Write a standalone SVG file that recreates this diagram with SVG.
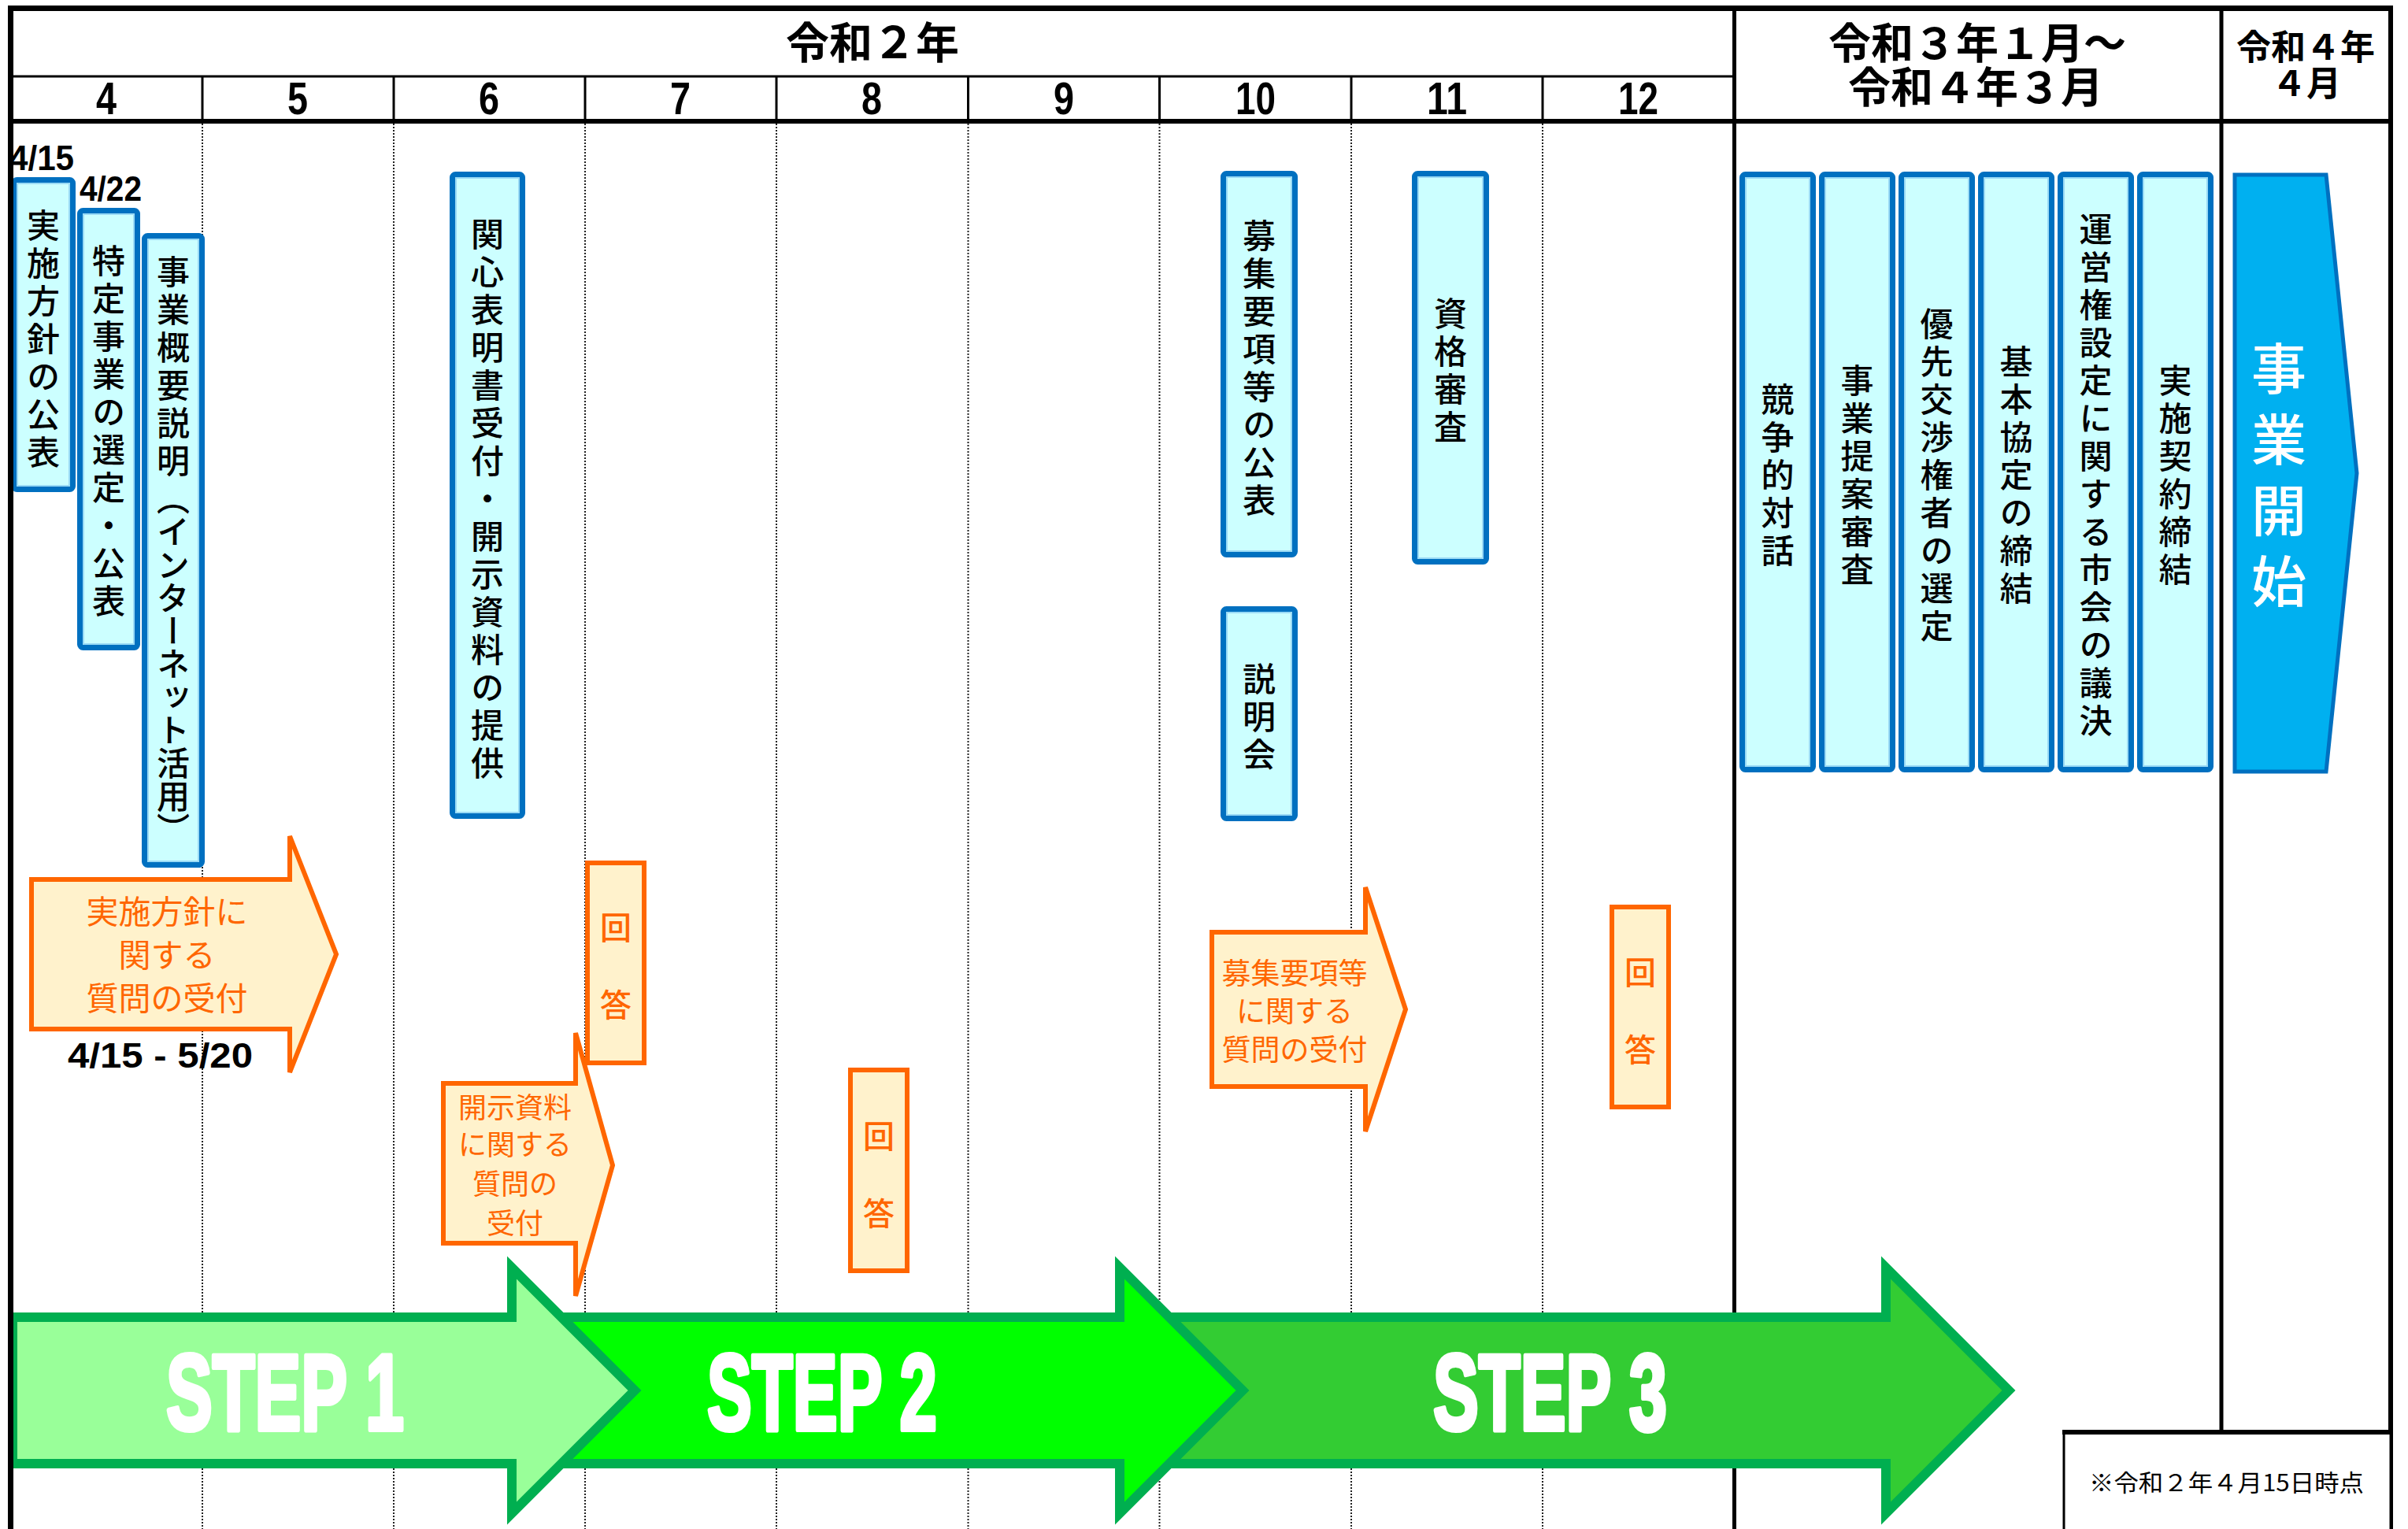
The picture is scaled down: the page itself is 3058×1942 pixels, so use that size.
<svg xmlns="http://www.w3.org/2000/svg" width="3058" height="1942" viewBox="0 0 3058 1942">
<style>
.bg{fill:#FFFFFF}
.dot{stroke:#222;stroke-width:2;stroke-dasharray:2 2;fill:none}
.frame{stroke:#000;fill:none}
.hdr{font-family:"Noto Sans CJK JP",sans-serif;font-weight:700;fill:#000;text-anchor:middle}
.mon{font-family:"Liberation Sans",Arial,sans-serif;font-weight:700;font-size:58px;fill:#000}
.date{font-family:"Liberation Sans",Arial,sans-serif;font-weight:700;font-size:45px;fill:#000}
.bx{fill:#CCFFFF;stroke:#0070C0;stroke-width:7}
.bxi{fill:none;stroke:#9ADAF5;stroke-width:2}
.vt{writing-mode:vertical-rl;font-family:"Noto Sans CJK JP",sans-serif;font-size:42px;font-weight:500;letter-spacing:6px;text-anchor:middle;fill:#000}
.ob{fill:#FFF2CC;stroke:#FF6600;stroke-width:6;stroke-linejoin:miter}
.ot{font-family:"Noto Sans CJK JP",sans-serif;fill:#FF6600;text-anchor:middle}
.ovt{writing-mode:vertical-rl;font-family:"Noto Sans CJK JP",sans-serif;font-size:40px;font-weight:500;letter-spacing:9px;text-anchor:middle;fill:#FF6600}
.step{stroke:#00AF50;stroke-width:12;stroke-linejoin:miter;stroke-miterlimit:10}
.st{font-family:"Liberation Sans",Arial,sans-serif;font-weight:700;font-size:138px;fill:#FFFFFF;stroke:#FFFFFF;stroke-width:6;stroke-linejoin:round}
</style>
<rect class="bg" x="0" y="0" width="3058" height="1942"/>

<g id="grid">
  <line class="dot" x1="257" y1="157" x2="257" y2="1942"/>
  <line class="dot" x1="500" y1="157" x2="500" y2="1942"/>
  <line class="dot" x1="743" y1="157" x2="743" y2="1942"/>
  <line class="dot" x1="986" y1="157" x2="986" y2="1942"/>
  <line class="dot" x1="1229.5" y1="157" x2="1229.5" y2="1942"/>
  <line class="dot" x1="1472.5" y1="157" x2="1472.5" y2="1942"/>
  <line class="dot" x1="1716" y1="157" x2="1716" y2="1942"/>
  <line class="dot" x1="1959" y1="157" x2="1959" y2="1942"/>
</g>

<g id="header">
  <text class="hdr" x="1108" y="74" font-size="55">令和２年</text>
  <text class="hdr" font-size="54"><tspan x="2511" y="75">令和３年１月～</tspan><tspan x="2509" y="131">令和４年３月</tspan></text>
  <text class="hdr" font-size="44"><tspan x="2928" y="76">令和４年</tspan><tspan x="2929" y="122">４月</tspan></text>
  <text class="mon" x="122" y="145" textLength="26" lengthAdjust="spacingAndGlyphs">4</text>
  <text class="mon" x="365" y="145" textLength="26" lengthAdjust="spacingAndGlyphs">5</text>
  <text class="mon" x="608" y="145" textLength="26" lengthAdjust="spacingAndGlyphs">6</text>
  <text class="mon" x="851" y="145" textLength="26" lengthAdjust="spacingAndGlyphs">7</text>
  <text class="mon" x="1094" y="145" textLength="26" lengthAdjust="spacingAndGlyphs">8</text>
  <text class="mon" x="1338" y="145" textLength="26" lengthAdjust="spacingAndGlyphs">9</text>
  <text class="mon" x="1569" y="145" textLength="51" lengthAdjust="spacingAndGlyphs">10</text>
  <text class="mon" x="1812" y="145" textLength="51" lengthAdjust="spacingAndGlyphs">11</text>
  <text class="mon" x="2055" y="145" textLength="51" lengthAdjust="spacingAndGlyphs">12</text>
</g>

<g id="dates">
  <text class="date" x="12" y="216" textLength="82" lengthAdjust="spacingAndGlyphs">4/15</text>
  <text class="date" x="101" y="255" textLength="79" lengthAdjust="spacingAndGlyphs">4/22</text>
  <text class="date" x="86" y="1356" textLength="235" lengthAdjust="spacingAndGlyphs">4/15 - 5/20</text>
</g>

<g id="box-jisshi-houshin">
  <rect class="bx" x="17.5" y="228.5" width="75" height="393" rx="4"/>
  <rect class="bxi" x="22" y="233" width="66" height="384"/>
  <text class="vt" x="55" y="433">実施方針の公表</text>
</g>
<g id="box-tokutei">
  <rect class="bx" x="101.5" y="267.5" width="73" height="555" rx="4"/>
  <rect class="bxi" x="106" y="272" width="64" height="546"/>
  <text class="vt" x="138" y="550">特定事業の選定・公表</text>
</g>
<g id="box-gaiyou">
  <rect class="bx" x="183.5" y="299.5" width="73" height="799" rx="4"/>
  <rect class="bxi" x="188" y="304" width="64" height="790"/>
  <text class="vt" x="220" y="699"><tspan>事業概要説明</tspan><tspan letter-spacing="0">（インターネット活用）</tspan></text>
</g>
<g id="box-kanshin">
  <rect class="bx" x="574.5" y="221.5" width="89" height="815" rx="4"/>
  <rect class="bxi" x="579" y="226" width="80" height="806"/>
  <text class="vt" x="619" y="636">関心表明書受付・開示資料の提供</text>
</g>
<g id="box-boshu">
  <rect class="bx" x="1553.5" y="220.5" width="91" height="484" rx="4"/>
  <rect class="bxi" x="1558" y="225" width="82" height="475"/>
  <text class="vt" x="1599" y="470">募集要項等の公表</text>
</g>
<g id="box-setsumeikai">
  <rect class="bx" x="1553.5" y="773.5" width="91" height="266" rx="4"/>
  <rect class="bxi" x="1558" y="778" width="82" height="257"/>
  <text class="vt" x="1599" y="913">説明会</text>
</g>
<g id="box-shikaku">
  <rect class="bx" x="1796.5" y="220.5" width="91" height="493" rx="4"/>
  <rect class="bxi" x="1801" y="225" width="82" height="484"/>
  <text class="vt" x="1842" y="473">資格審査</text>
</g>
<g id="box-kyousou">
  <rect class="bx" x="2212.5" y="221.5" width="90" height="756" rx="4"/>
  <rect class="bxi" x="2217" y="226" width="81" height="747"/>
  <text class="vt" x="2257.5" y="606">競争的対話</text>
</g>
<g id="box-teian">
  <rect class="bx" x="2313.5" y="221.5" width="90" height="756" rx="4"/>
  <rect class="bxi" x="2318" y="226" width="81" height="747"/>
  <text class="vt" x="2358.5" y="606">事業提案審査</text>
</g>
<g id="box-yuusen">
  <rect class="bx" x="2414.5" y="221.5" width="90" height="756" rx="4"/>
  <rect class="bxi" x="2419" y="226" width="81" height="747"/>
  <text class="vt" x="2459.5" y="606">優先交渉権者の選定</text>
</g>
<g id="box-kihon">
  <rect class="bx" x="2515.5" y="221.5" width="90" height="756" rx="4"/>
  <rect class="bxi" x="2520" y="226" width="81" height="747"/>
  <text class="vt" x="2560.5" y="606">基本協定の締結</text>
</g>
<g id="box-giketsu">
  <rect class="bx" x="2616.5" y="221.5" width="90" height="756" rx="4"/>
  <rect class="bxi" x="2621" y="226" width="81" height="747"/>
  <text class="vt" x="2661.5" y="606">運営権設定に関する市会の議決</text>
</g>
<g id="box-keiyaku">
  <rect class="bx" x="2717.5" y="221.5" width="90" height="756" rx="4"/>
  <rect class="bxi" x="2722" y="226" width="81" height="747"/>
  <text class="vt" x="2762.5" y="606">実施契約締結</text>
</g>

<g id="jigyou-kaishi">
  <polygon points="2838,222 2954,222 2993,601 2954,980 2838,980" fill="#00B0F0" stroke="#0070C0" stroke-width="5"/>
  <text class="vt" x="2894" y="613" style="font-size:70px;letter-spacing:20px;fill:#FFFFFF">事業開始</text>
</g>

<g id="q-houshin">
  <polygon class="ob" points="40,1117 368,1117 368,1062 427,1212 368,1362 368,1307 40,1307"/>
  <text class="ot" font-size="41"><tspan x="212" y="1173">実施方針に</tspan><tspan x="212" y="1228">関する</tspan><tspan x="212" y="1283">質問の受付</tspan></text>
</g>
<g id="q-kaiji">
  <polygon class="ob" points="563,1376 731,1376 731,1312 778,1480 731,1646 731,1579 563,1579"/>
  <text class="ot" font-size="36"><tspan x="654" y="1420">開示資料</tspan><tspan x="654" y="1467">に関する</tspan><tspan x="654" y="1517">質問の</tspan><tspan x="654" y="1567">受付</tspan></text>
</g>
<g id="q-boshu">
  <polygon class="ob" points="1539,1184 1734,1184 1734,1127 1785,1282 1734,1437 1734,1380 1539,1380"/>
  <text class="ot" font-size="37"><tspan x="1644" y="1250">募集要項等</tspan><tspan x="1644" y="1298">に関する</tspan><tspan x="1644" y="1347">質問の受付</tspan></text>
</g>
<g id="ans-1">
  <rect class="ob" x="746" y="1096" width="72" height="254"/>
  <text class="ovt" x="782" y="1231">回　答</text>
</g>
<g id="ans-2">
  <rect class="ob" x="1080" y="1359" width="72" height="255"/>
  <text class="ovt" x="1116" y="1496">回　答</text>
</g>
<g id="ans-3">
  <rect class="ob" x="2047" y="1152" width="72" height="254"/>
  <text class="ovt" x="2083" y="1288">回　答</text>
</g>

<g id="frame">
  <line class="frame" x1="10" y1="10.5" x2="3039" y2="10.5" stroke-width="7"/>
  <line class="frame" x1="13.5" y1="7" x2="13.5" y2="1942" stroke-width="7"/>
  <line class="frame" x1="3036" y1="7" x2="3036" y2="1942" stroke-width="6"/>
  <line class="frame" x1="10" y1="154" x2="3039" y2="154" stroke-width="6"/>
  <line class="frame" x1="14" y1="97" x2="2202" y2="97" stroke-width="3" stroke="#333"/>
  <line class="frame" x1="257" y1="97" x2="257" y2="154" stroke-width="3"/>
  <line class="frame" x1="500" y1="97" x2="500" y2="154" stroke-width="3"/>
  <line class="frame" x1="743" y1="97" x2="743" y2="154" stroke-width="3"/>
  <line class="frame" x1="986" y1="97" x2="986" y2="154" stroke-width="3"/>
  <line class="frame" x1="1229.5" y1="97" x2="1229.5" y2="154" stroke-width="3"/>
  <line class="frame" x1="1472.5" y1="97" x2="1472.5" y2="154" stroke-width="3"/>
  <line class="frame" x1="1716" y1="97" x2="1716" y2="154" stroke-width="3"/>
  <line class="frame" x1="1959" y1="97" x2="1959" y2="154" stroke-width="3"/>
  <line class="frame" x1="2202.5" y1="7" x2="2202.5" y2="1942" stroke-width="5"/>
  <line class="frame" x1="2821" y1="7" x2="2821" y2="1818" stroke-width="5"/>
</g>

<g id="step3">
  <polygon class="step" fill="#33CC33" points="1480,1673 2395,1673 2395,1610 2551,1766 2395,1922 2395,1859 1480,1859"/>
  <text class="st" x="1820" y="1816" textLength="297" lengthAdjust="spacingAndGlyphs">STEP 3</text>
</g>
<g id="step2">
  <polygon class="step" fill="#00FF00" points="700,1673 1422,1673 1422,1610 1578,1766 1422,1922 1422,1859 700,1859"/>
  <text class="st" x="898" y="1816" textLength="292" lengthAdjust="spacingAndGlyphs">STEP 2</text>
</g>
<g id="step1">
  <polygon class="step" fill="#99FF99" points="16,1673 650,1673 650,1610 806,1766 650,1922 650,1859 16,1859"/>
  <text class="st" x="211" y="1816" textLength="302" lengthAdjust="spacingAndGlyphs">STEP 1</text>
</g>
<line class="frame" x1="13.5" y1="1660" x2="13.5" y2="1942" stroke-width="7"/>

<g id="note">
  <rect x="2621" y="1819" width="415" height="130" fill="#FFFFFF" stroke="#000" stroke-width="3"/>
  <line x1="2619" y1="1819" x2="3039" y2="1819" stroke="#000" stroke-width="6"/>
  <text x="2653" y="1894" font-family="Noto Sans CJK JP, sans-serif" font-size="30" fill="#000" textLength="349" lengthAdjust="spacingAndGlyphs">※令和２年４月15日時点</text>
</g>
</svg>
